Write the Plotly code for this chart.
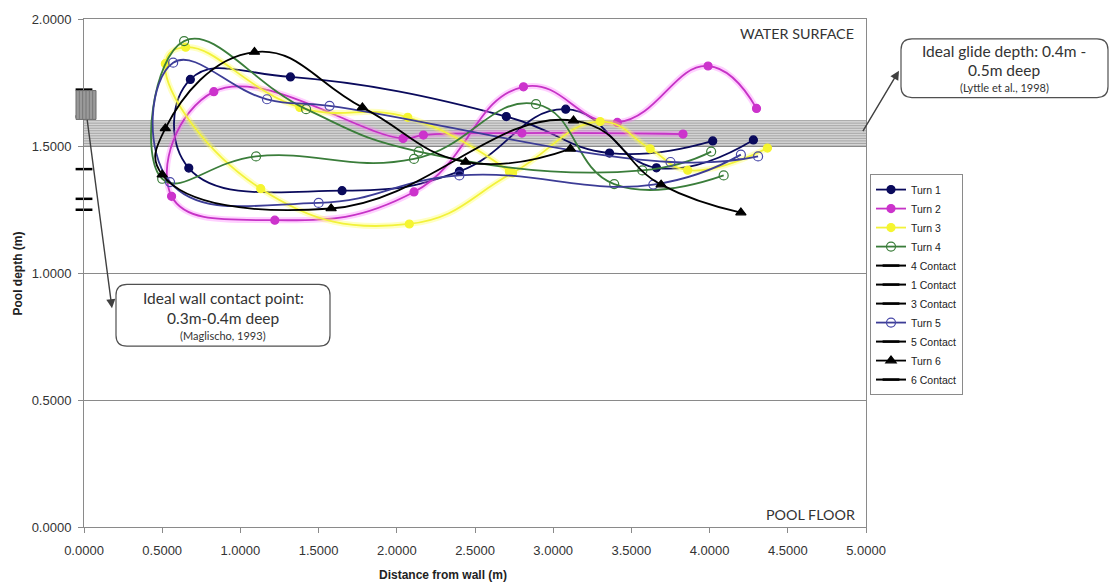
import plotly.graph_objects as go

# ---------------- data ----------------
turn1_x = [4.02, 3.36, 2.70, 1.32, 0.68, 0.67, 1.65, 2.40, 3.08, 3.66, 4.28]
turn1_y = [1.520, 1.472, 1.616, 1.772, 1.762, 1.413, 1.324, 1.400, 1.645, 1.414, 1.524]

turn2_x = [3.83, 2.80, 2.17, 2.04, 0.83, 0.56, 1.22, 2.11, 2.81, 3.41, 3.99, 4.30]
turn2_y = [1.547, 1.551, 1.543, 1.530, 1.714, 1.302, 1.208, 1.319, 1.733, 1.593, 1.815, 1.648]

turn3_x = [2.72, 2.07, 1.38, 0.65, 0.52, 1.13, 2.08, 2.74, 3.30, 3.62, 3.86, 4.37]
turn3_y = [1.400, 1.613, 1.652, 1.889, 1.824, 1.332, 1.193, 1.394, 1.596, 1.489, 1.405, 1.492]

turn4_x = [4.01, 3.57, 2.14, 1.42, 0.64, 0.50, 1.10, 2.11, 2.89, 3.39, 4.09]
turn4_y = [1.478, 1.404, 1.478, 1.645, 1.913, 1.371, 1.459, 1.449, 1.665, 1.350, 1.384]

turn5_x = [4.31, 3.75, 1.57, 1.17, 0.57, 0.55, 1.50, 2.40, 3.64, 4.20]
turn5_y = [1.459, 1.437, 1.658, 1.684, 1.828, 1.358, 1.276, 1.384, 1.348, 1.466]

turn6_x = [3.11, 2.44, 1.78, 1.09, 0.52, 0.50, 1.58, 3.13, 3.69, 4.20]
turn6_y = [1.489, 1.437, 1.652, 1.870, 1.569, 1.387, 1.254, 1.600, 1.348, 1.238]

contact_names = ["4 Contact", "1 Contact", "3 Contact", "5 Contact", "6 Contact"]
contact_x = [0.0, 0.0, 0.0, 0.0, 0.0]
contact_y = [1.722, 1.616, 1.409, 1.292, 1.249]

x_ticks = [0, 0.5, 1, 1.5, 2, 2.5, 3, 3.5, 4, 4.5, 5]
y_ticks = [0, 0.5, 1, 1.5, 2]

glide_band = (1.5, 1.6)

# ---------------- styles ----------------
FONT = "Liberation Sans, Arial, sans-serif"
BOXFONT = "Lato, Open Sans, sans-serif"
SMOOTH = 1.3

fig = go.Figure()

def turn(name, xs, ys, color, symbol, msize, mcolor, glow=None):
    if glow:
        fig.add_trace(go.Scatter(x=xs, y=ys, mode="lines", showlegend=False,
                                 hoverinfo="skip",
                                 line=dict(color=glow, width=6, shape="spline", smoothing=SMOOTH)))
    fig.add_trace(go.Scatter(
        x=xs, y=ys, name=name, mode="lines+markers",
        line=dict(color=color, width=1.8, shape="spline", smoothing=SMOOTH),
        marker=dict(symbol=symbol, size=msize, color=mcolor,
                    line=dict(color=mcolor, width=1.2))))

def contact(i):
    fig.add_trace(go.Scatter(
        x=[contact_x[i]], y=[contact_y[i]], name=contact_names[i],
        mode="lines+markers", cliponaxis=False,
        line=dict(color="black", width=2),
        marker=dict(symbol="line-ew", size=12, line=dict(color="black", width=2.5))))

turn("Turn 1", turn1_x, turn1_y, "#0a0a5c", "circle", 8, "#0a0a5c")
turn("Turn 2", turn2_x, turn2_y, "#c633c6", "circle", 8, "#cc33cc", glow="rgba(255,120,255,0.35)")
turn("Turn 3", turn3_x, turn3_y, "#f2f23a", "circle", 8, "#f5f530", glow="rgba(255,255,80,0.35)")
turn("Turn 4", turn4_x, turn4_y, "#3a7d3a", "circle-open", 9, "#3a7d3a")
contact(0)
contact(1)
contact(2)
turn("Turn 5", turn5_x, turn5_y, "#3c3c96", "circle-open", 9, "#4848a8")
contact(3)
turn("Turn 6", turn6_x, turn6_y, "#000000", "triangle-up", 9, "#000000")
contact(4)

# ---------------- geometry helpers (paper coords) ----------------
L, R, T, B = 84, 866, 16, 527
def px(x):
    return (x - L) / (R - L)
def py(y):
    return (B - y) / (B - T)

shapes = []
# glide-depth band (horizontal hatching)
shapes.append(dict(type="rect", xref="paper", yref="y", x0=0, x1=1,
                   y0=glide_band[0], y1=glide_band[1],
                   fillcolor="#d4d4d4", line=dict(width=0), layer="below"))
n = 11
for k in range(n):
    yy = glide_band[0] + (glide_band[1] - glide_band[0]) * k / (n - 1)
    shapes.append(dict(type="line", xref="paper", yref="y", x0=0, x1=1, y0=yy, y1=yy,
                       line=dict(color="#a6a6a6", width=1), layer="below"))

# wall contact box
bx0, bx1, by0, by1 = px(76), px(96), py(117), py(88)
shapes.append(dict(type="rect", xref="paper", yref="paper", x0=bx0, x1=bx1, y0=by0, y1=by1,
                   fillcolor="#9a9a9a", line=dict(color="#6a6a6a", width=1)))
for k in range(1, 6):
    xx = bx0 + (bx1 - bx0) * k / 6
    shapes.append(dict(type="line", xref="paper", yref="paper", x0=xx, x1=xx, y0=by0, y1=by1,
                       line=dict(color="#777777", width=1)))

def rounded(x0p, y0p, x1p, y1p, r=11):
    x0, x1 = px(x0p), px(x1p)
    y0, y1 = py(y1p), py(y0p)  # y0 bottom, y1 top
    rx = r / (R - L)
    ry = r / (B - T)
    path = (f"M {x0+rx},{y1} L {x1-rx},{y1} Q {x1},{y1} {x1},{y1-ry} "
            f"L {x1},{y0+ry} Q {x1},{y0} {x1-rx},{y0} "
            f"L {x0+rx},{y0} Q {x0},{y0} {x0},{y0+ry} "
            f"L {x0},{y1-ry} Q {x0},{y1} {x0+rx},{y1} Z")
    return dict(type="path", xref="paper", yref="paper", path=path,
                fillcolor="white", line=dict(color="#505050", width=1.2))

shapes.append(rounded(901, 36, 1108, 95))
shapes.append(rounded(116, 283, 330, 345))

annotations = []
def txt(text, xp, yp, size, anchor="center", color="#333333", font=BOXFONT):
    annotations.append(dict(text=text, xref="paper", yref="paper", x=px(xp), y=py(yp),
                            xanchor=anchor, yanchor="middle", showarrow=False,
                            font=dict(family=font, size=size, color=color)))

txt("Ideal glide depth: 0.4m -", 1004.5, 48, 15.5)
txt("0.5m deep", 1004.5, 67, 15.5)
txt("(Lyttle et al., 1998)", 1004.5, 85, 11)
txt("Ideal wall contact point:", 223, 297, 15.5)
txt("0.3m-0.4m deep", 223, 317, 15.5)
txt("(Maglischo, 1993)", 223, 334, 11)
txt("WATER SURFACE", 856, 31, 14.3, anchor="right")
txt("POOL FLOOR", 857, 514, 14.3, anchor="right")

# axis titles
annotations.append(dict(text="<b>Distance from wall (m)</b>", xref="paper", yref="paper",
                        x=px(443), y=py(575), xanchor="center", yanchor="middle",
                        showarrow=False,
                        font=dict(family=FONT, size=12, color="#222222")))
annotations.append(dict(text="<b>Pool depth (m)</b>", xref="paper", yref="paper",
                        x=px(18), y=py(272), xanchor="center", yanchor="middle",
                        showarrow=False, textangle=-90,
                        font=dict(family=FONT, size=12, color="#222222")))

# arrows
annotations.append(dict(text="", xref="paper", yref="paper", x=px(899), y=py(68),
                        ax=862 - 899, ay=130 - 68, axref="pixel", ayref="pixel",
                        showarrow=True, arrowhead=2, arrowsize=1.3, arrowwidth=1.4,
                        arrowcolor="#404040"))
annotations.append(dict(text="", xref="paper", yref="paper", x=px(112), y=py(307),
                        ax=87 - 112, ay=117 - 307, axref="pixel", ayref="pixel",
                        showarrow=True, arrowhead=2, arrowsize=1.3, arrowwidth=1.4,
                        arrowcolor="#404040"))

fig.update_layout(
    width=1114, height=583,
    margin=dict(l=L, r=1114 - R, t=T, b=583 - B),
    paper_bgcolor="white", plot_bgcolor="white",
    font=dict(family=FONT, size=12, color="#222222"),
    shapes=shapes, annotations=annotations,
    legend=dict(x=px(870), y=py(172), xanchor="left", yanchor="top",
                bordercolor="#8a8a8a", borderwidth=1, bgcolor="white",
                font=dict(family=FONT, size=10.5, color="#222222"),
                tracegroupgap=0, itemwidth=30),
    showlegend=True,
)
fig.update_xaxes(range=[0, 5], tickvals=x_ticks, tickformat=".4f",
                 showgrid=False, zeroline=False, showline=True, linecolor="#8a8a8a",
                 linewidth=1, mirror=True, ticks="outside", ticklen=5, tickcolor="#8a8a8a",
                 ticklabelstandoff=6,
                 tickfont=dict(size=13, color="#333333"))
fig.update_yaxes(range=[0, 2], tickvals=y_ticks, tickformat=".4f",
                 showgrid=True, gridcolor="#8a8a8a", gridwidth=1, zeroline=False,
                 showline=True, linecolor="#8a8a8a", linewidth=1, mirror=True,
                 ticks="outside", ticklen=5, tickcolor="#8a8a8a",
                 ticklabelstandoff=4,
                 tickfont=dict(size=13, color="#333333"))

fig.write_html("out.html", config={"displayModeBar": False},
               post_script="document.body.style.margin='0px';")
